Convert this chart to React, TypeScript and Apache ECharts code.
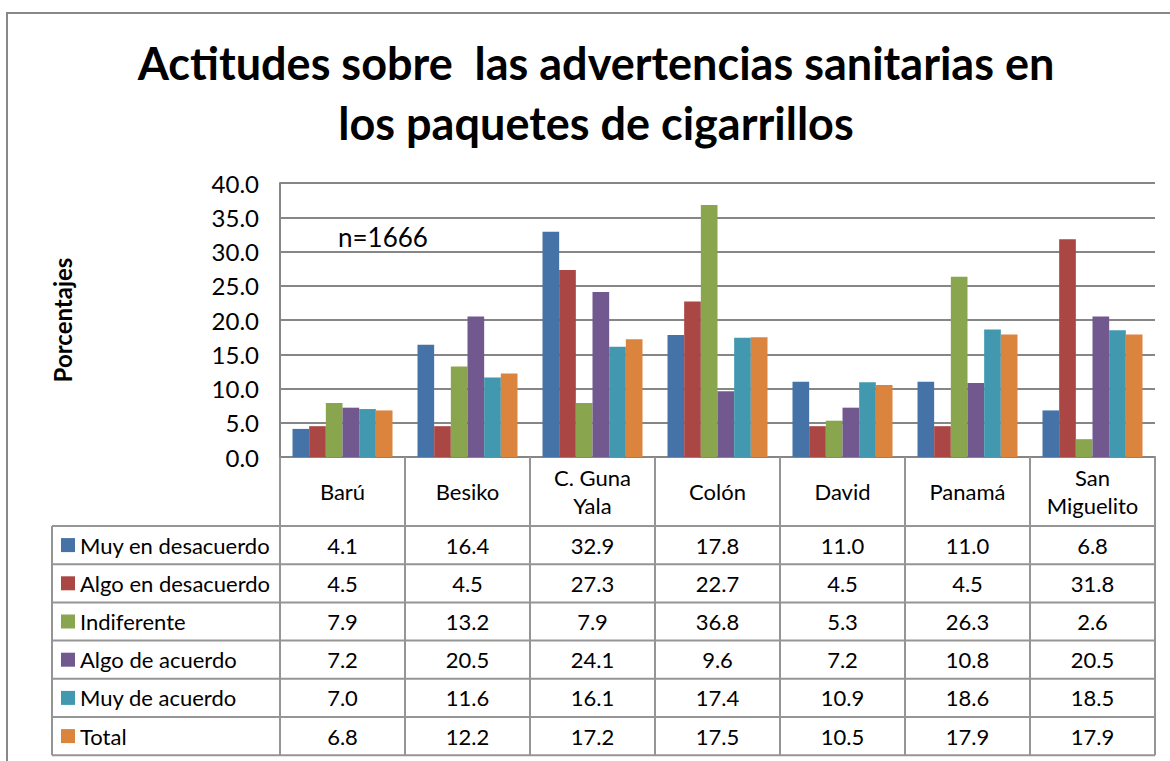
import React, { useEffect, useRef } from "react";
import * as echarts from "echarts";

const categories = ["Barú", "Besiko", "C. Guna\nYala", "Colón", "David", "Panamá", "San\nMiguelito"];
const seriesNames = ["Muy en desacuerdo", "Algo en desacuerdo", "Indiferente", "Algo de acuerdo", "Muy de acuerdo", "Total"];
const muyDesacuerdo = [4.1, 16.4, 32.9, 17.8, 11.0, 11.0, 6.8];
const algoDesacuerdo = [4.5, 4.5, 27.3, 22.7, 4.5, 4.5, 31.8];
const indiferente = [7.9, 13.2, 7.9, 36.8, 5.3, 26.3, 2.6];
const algoAcuerdo = [7.2, 20.5, 24.1, 9.6, 7.2, 10.8, 20.5];
const muyAcuerdo = [7.0, 11.6, 16.1, 17.4, 10.9, 18.6, 18.5];
const total = [6.8, 12.2, 17.2, 17.5, 10.5, 17.9, 17.9];
const seriesValues = [muyDesacuerdo, algoDesacuerdo, indiferente, algoAcuerdo, muyAcuerdo, total];
const colors = ["#4572A7", "#AA4643", "#89A54E", "#71588F", "#4198AF", "#DB843D"];
const yTicks = { min: 0, max: 40, interval: 5 };

const FONT = "Lato";
const GRID = { left: 280, top: 183, width: 875, height: 274 };
const HEADER_BOTTOM = 526;
const ROW_H = 38.2;
const LEG_LEFT = 52;
const LINE = "#959595";

function buildTable() {
  const els: any[] = [];
  const right = GRID.left + GRID.width;
  const bottom0 = GRID.top + GRID.height;
  const catW = GRID.width / categories.length;
  const tableBottom = HEADER_BOTTOM + ROW_H * seriesNames.length;
  const line = (x1: number, y1: number, x2: number, y2: number) =>
    els.push({ type: "line", shape: { x1, y1, x2, y2 }, style: { stroke: LINE, lineWidth: 2 }, z: 10 });
  line(GRID.left, HEADER_BOTTOM, right, HEADER_BOTTOM);
  line(LEG_LEFT, HEADER_BOTTOM, GRID.left, HEADER_BOTTOM);
  for (let r = 1; r <= seriesNames.length; r++) {
    const y = HEADER_BOTTOM + ROW_H * r;
    line(LEG_LEFT, y, right, y);
  }
  line(LEG_LEFT, HEADER_BOTTOM, LEG_LEFT, tableBottom);
  for (let c = 0; c <= categories.length; c++) {
    const x = GRID.left + catW * c;
    line(x, bottom0, x, tableBottom);
  }
  categories.forEach((cat, c) => {
    els.push({
      type: "text",
      x: GRID.left + catW * (c + 0.5),
      y: (bottom0 + HEADER_BOTTOM) / 2,
      style: { text: cat, font: `22px ${FONT}`, fill: "#000", align: "center", verticalAlign: "middle", lineHeight: 28 },
      z: 11,
    });
  });
  seriesNames.forEach((name, r) => {
    const cy = HEADER_BOTTOM + ROW_H * (r + 0.5);
    els.push({ type: "rect", shape: { x: 61, y: cy - 7, width: 14, height: 14 }, style: { fill: colors[r] }, z: 11 });
    els.push({
      type: "text",
      x: 80,
      y: cy,
      style: { text: name, font: `22px ${FONT}`, fill: "#000", align: "left", verticalAlign: "middle" },
      z: 11,
    });
    seriesValues[r].forEach((v, c) => {
      els.push({
        type: "text",
        x: GRID.left + catW * (c + 0.5),
        y: cy,
        style: { text: v.toFixed(1), font: `22px ${FONT}`, fill: "#000", align: "center", verticalAlign: "middle" },
        z: 11,
      });
    });
  });
  return els;
}

export default function App() {
  const ref = useRef<HTMLDivElement>(null);
  useEffect(() => {
    const chart = echarts.init(ref.current!, null, { renderer: "svg" });
    chart.setOption({
      animation: false,
      backgroundColor: "#fff",
      color: colors,
      grid: { ...GRID, containLabel: false },
      xAxis: {
        type: "category",
        data: categories,
        axisLabel: { show: false },
        axisTick: { show: false },
        axisLine: { show: true, lineStyle: { color: "#868686", width: 2 } },
      },
      yAxis: {
        type: "value",
        ...yTicks,
        axisLabel: { formatter: (v: number) => v.toFixed(1), fontSize: 24, fontFamily: FONT, color: "#000", margin: 21 },
        axisLine: { show: true, lineStyle: { color: "#868686", width: 2 } },
        axisTick: { show: false },
        splitLine: { lineStyle: { color: "#868686", width: 2 } },
      },
      series: seriesNames.map((name, i) => ({
        name,
        type: "bar",
        data: seriesValues[i],
        barGap: "0%",
        barCategoryGap: "20%",
        itemStyle: { color: colors[i] },
      })),
      graphic: [
        {
          type: "rect",
          shape: { x: 7, y: 13, width: 1175, height: 760 },
          style: { fill: "none", stroke: "#888", lineWidth: 2 },
          z: 0,
        },
        {
          type: "text",
          x: 596,
          y: 93,
          style: {
            text: "Actitudes sobre  las advertencias sanitarias en\nlos paquetes de cigarrillos",
            font: `bold 45px ${FONT}`,
            fill: "#000",
            align: "center",
            verticalAlign: "middle",
            lineHeight: 60,
          },
        },
        {
          type: "text",
          x: 62,
          y: 320,
          rotation: Math.PI / 2,
          style: { text: "Porcentajes", font: `bold 24px ${FONT}`, fill: "#000", align: "center", verticalAlign: "middle" },
        },
        {
          type: "text",
          x: 338,
          y: 237,
          style: { text: "n=1666", font: `26px ${FONT}`, fill: "#000", align: "left", verticalAlign: "middle" },
        },
        ...buildTable(),
      ],
    });
    return () => chart.dispose();
  }, []);
  return <div ref={ref} style={{ position: "absolute", left: 0, top: 0, width: 1170, height: 761 }} />;
}
